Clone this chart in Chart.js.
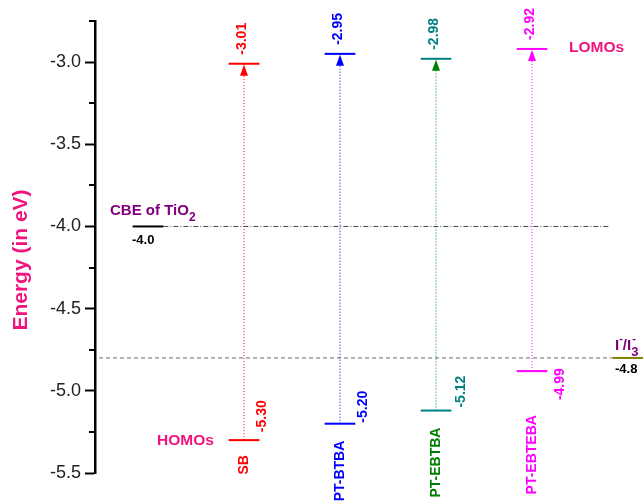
<!DOCTYPE html>
<html>
<head>
<meta charset="utf-8">
<title>Energy levels</title>
<script src="https://cdn.jsdelivr.net/npm/chart.js@4.4.1/dist/chart.umd.min.js"></script>
<style>
  html, body { margin: 0; padding: 0; background: #fff; }
  #wrap { width: 643px; height: 503px; position: relative; }
</style>
</head>
<body>
<div id="wrap"><canvas id="levels"></canvas></div>
<script>
// values (eV)
const compounds = ["SB", "PT-BTBA", "PT-EBTBA", "PT-EBTEBA"];
const homo = [-5.30, -5.20, -5.12, -4.88];          // where the levels are drawn
const homoLabels = ["-5.30", "-5.20", "-5.12", "-4.99"];
const lumo = [-3.01, -2.95, -2.98, -2.92];
const lumoLabels = ["-3.01", "-2.95", "-2.98", "-2.92"];
const cbeTiO2 = -4.0;
const redox = -4.8;
const yTicks = [-5.5, -5.0, -4.5, -4.0, -3.5, -3.0];
const yMinorTicks = [-5.25, -4.75, -4.25, -3.75, -3.25, -2.75];

// colours per compound
const levelColor = ["#ff0000", "#0000ff", "#008080", "#ff00ff"];
const arrowColor = ["#ff0000", "#0000ff", "#008000", "#ff00ff"];
const nameColor  = ["#ff0000", "#0000ff", "#008000", "#ff00ff"];
const valueColor = ["#ff0000", "#0000ff", "#008080", "#ff00ff"];

// layout (x slots, label offsets in px)
const xPos = [1, 2, 3, 4];
const cbeX = 0, redoxX = 5;
const halfW = 0.16;
const homoLabelDx = [18, 23, 25, 28];
const homoLabelDy = [-8, -1, -3, 29];   // bottom of the rotated text vs. level
const nameGap = [15, 17, 17, 44];

const FONT = "'Liberation Sans', Arial, sans-serif";
const PINK = "#f0147c";
const PURPLE = "#800080";

function seg(x0, x1, y, color, width, dash) {
  return {
    data: [{x: x0, y: y}, {x: x1, y: y}],
    borderColor: color, borderWidth: width, borderDash: dash || [],
    pointRadius: 0, fill: false, clip: false
  };
}

const datasets = [];
compounds.forEach((c, i) => {
  const x = xPos[i];
  datasets.push(seg(x - halfW, x + halfW, homo[i], levelColor[i], 2));
  datasets.push(seg(x - halfW, x + halfW, lumo[i], levelColor[i], 2));
  datasets.push({
    data: [{x: x, y: homo[i]}, {x: x, y: lumo[i]}],
    borderColor: arrowColor[i], borderWidth: 1, borderDash: [1, 2],
    pointRadius: 0, fill: false, clip: false
  });
});
// TiO2 conduction band edge and the I-/I3- level
datasets.push(seg(cbeX - halfW, cbeX + halfW, cbeTiO2, "#000", 2));
datasets.push(seg(cbeX + halfW, 4.81, cbeTiO2, "#444", 1, [5, 2, 1, 2]));
datasets.push(seg(-0.51, redoxX - halfW, redox, "#666", 1, [4, 3]));
datasets.push(seg(redoxX - halfW, redoxX + halfW, redox, "#808000", 2));

function vText(ctx, txt, x, y, align) {
  ctx.save();
  ctx.translate(x, y);
  ctx.rotate(-Math.PI / 2);
  ctx.textAlign = align;
  ctx.textBaseline = "middle";
  ctx.fillText(txt, 0, 0);
  ctx.restore();
}

const annotate = {
  id: "annotate",
  afterDatasetsDraw(chart) {
    const ctx = chart.ctx, xs = chart.scales.x, ys = chart.scales.y;
    ctx.save();
    compounds.forEach((c, i) => {
      const px = xs.getPixelForValue(xPos[i]);
      const py = ys.getPixelForValue(lumo[i]);
      ctx.fillStyle = arrowColor[i];
      ctx.beginPath();
      ctx.moveTo(px, py + 1);
      ctx.lineTo(px - 4, py + 12);
      ctx.lineTo(px + 4, py + 12);
      ctx.closePath();
      ctx.fill();
    });
    // minor ticks on the energy axis
    ctx.strokeStyle = "#000";
    ctx.lineWidth = 2;
    yMinorTicks.forEach(v => {
      const py = Math.round(ys.getPixelForValue(v));
      ctx.beginPath();
      ctx.moveTo(ys.right - 6, py);
      ctx.lineTo(ys.right, py);
      ctx.stroke();
    });
    ctx.restore();
  },
  afterDraw(chart) {
    const ctx = chart.ctx, xs = chart.scales.x, ys = chart.scales.y;
    ctx.save();
    ctx.font = "bold 14px " + FONT;
    compounds.forEach((c, i) => {
      const px = xs.getPixelForValue(xPos[i]);
      const ph = ys.getPixelForValue(homo[i]);
      const pl = ys.getPixelForValue(lumo[i]);
      ctx.fillStyle = valueColor[i];
      vText(ctx, lumoLabels[i], px - 2, pl - 9, "left");
      vText(ctx, homoLabels[i], px + homoLabelDx[i], ph + homoLabelDy[i], "left");
      ctx.fillStyle = nameColor[i];
      vText(ctx, c, px, ph + nameGap[i], "right");
    });

    // y axis title
    ctx.save();
    ctx.translate(27, 260);
    ctx.rotate(-Math.PI / 2);
    ctx.font = "bold 21px " + FONT;
    ctx.fillStyle = PINK;
    ctx.textAlign = "center";
    ctx.textBaseline = "alphabetic";
    ctx.fillText("Energy (in eV)", 0, 0);
    ctx.restore();

    ctx.textAlign = "left";
    ctx.textBaseline = "alphabetic";
    ctx.fillStyle = PINK;
    ctx.font = "bold 15.5px " + FONT;
    ctx.fillText("LOMOs", 569, 52);
    ctx.fillText("HOMOs", 157, 445);

    // CBE of TiO2
    const cx = xs.getPixelForValue(cbeX), cy = ys.getPixelForValue(cbeTiO2);
    ctx.fillStyle = PURPLE;
    ctx.font = "bold 15px " + FONT;
    const t1 = "CBE of TiO";
    ctx.fillText(t1, cx - 38, cy - 11);
    const w1 = ctx.measureText(t1).width;
    ctx.font = "bold 12px " + FONT;
    ctx.fillText("2", cx - 38 + w1, cy - 5);
    ctx.fillStyle = "#000";
    ctx.font = "bold 13px " + FONT;
    ctx.fillText(cbeTiO2.toFixed(1), cx - 16, cy + 18);

    // I-/I3-
    const rx = xs.getPixelForValue(redoxX) - 13, ry = ys.getPixelForValue(redox);
    ctx.fillStyle = PURPLE;
    let x = rx;
    ctx.font = "bold 15px " + FONT;
    ctx.fillText("I", x, ry - 8); x += ctx.measureText("I").width;
    ctx.font = "bold 11px " + FONT;
    ctx.fillText("-", x, ry - 16); x += ctx.measureText("-").width;
    ctx.font = "bold 15px " + FONT;
    ctx.fillText("/I", x, ry - 8); x += ctx.measureText("/I").width;
    ctx.font = "bold 13px " + FONT;
    ctx.fillText("3", x, ry - 2);
    ctx.font = "bold 11px " + FONT;
    ctx.fillText("-", x + 1, ry - 16);
    ctx.fillStyle = "#000";
    ctx.font = "bold 13px " + FONT;
    ctx.fillText(redox.toFixed(1), rx, ry + 15);
    ctx.restore();
  }
};

new Chart(document.getElementById("levels"), {
  type: "line",
  data: { datasets: datasets },
  options: {
    responsive: true,
    maintainAspectRatio: false,
    animation: false,
    events: [],
    layout: { padding: { left: 0, right: 0, top: 21, bottom: 30 } },
    plugins: { legend: { display: false }, tooltip: { enabled: false } },
    scales: {
      x: { type: "linear", min: -0.552, max: 5.156, display: false },
      y: {
        type: "linear", position: "left", min: -5.5, max: -2.75,
        afterBuildTicks: s => { s.ticks = yTicks.map(v => ({ value: v })); },
        afterFit: s => { s.width = 95; },
        ticks: {
          callback: v => v.toFixed(1),
          color: "#222", padding: 4,
          font: { family: FONT, size: 18 }
        },
        grid: { drawOnChartArea: false, drawTicks: true, tickLength: 10, tickWidth: 2, tickColor: "#000" },
        border: { display: true, color: "#000", width: 2.5 }
      }
    }
  },
  plugins: [annotate]
});
</script>
</body>
</html>
